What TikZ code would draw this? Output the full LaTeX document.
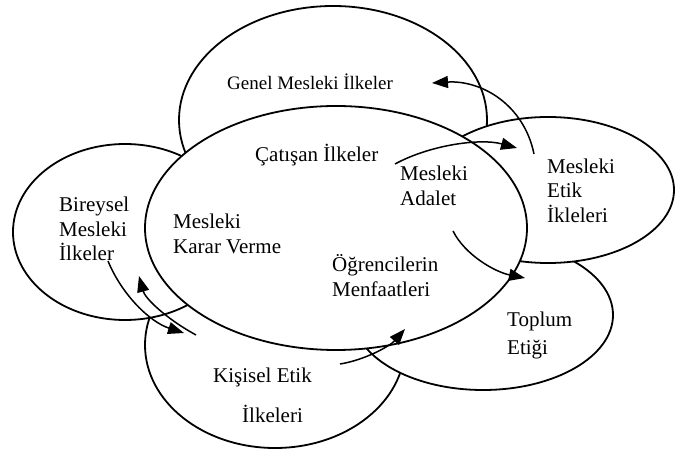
\documentclass[tikz,border=0pt]{standalone}
\usepackage{fontspec}
\setmainfont{Liberation Serif}
\usetikzlibrary{shapes.geometric,arrows.meta}
\begin{document}
\begin{tikzpicture}[x=1pt,y=-1pt,
  circ/.style={ellipse,draw,fill=white,line width=1.8pt,inner sep=0pt},
  lbl/.style={anchor=base west,inner sep=0pt,font=\fontsize{21}{25}\selectfont},
  conn/.style={line width=1.5pt,-{Triangle[length=16pt,width=12pt]}}]
\useasboundingbox (0,0) rectangle (675,454);
% circles (back to front)
\node[circ,minimum width=308pt,minimum height=228pt] (genel) at (333,120) {};
\node[circ,minimum width=260pt,minimum height=206pt] (kisisel) at (275,345) {};
\node[circ,minimum width=260pt,minimum height=150pt] (toplum) at (483,315) {};
\node[circ,minimum width=252pt,minimum height=146pt] (etik) at (548,190) {};
\node[circ,minimum width=224pt,minimum height=176pt] (bireysel) at (125,232) {};
\node[circ,minimum width=382pt,minimum height=244pt] (merkez) at (336,228) {};
% texts
\node[lbl,font=\fontsize{19}{23}\selectfont] (tgenel) at (227,90) {Genel Mesleki İlkeler};
\node[lbl] (tcat) at (255,162) {Çatışan İlkeler};
\node[lbl] (tada1) at (400,181) {Mesleki};
\node[lbl] (tada2) at (400,206) {Adalet};
\node[lbl] (tkar1) at (173,229) {Mesleki};
\node[lbl] (tkar2) at (173,254) {Karar Verme};
\node[lbl] (tbir1) at (59,212) {Bireysel};
\node[lbl] (tbir2) at (59,237) {Mesleki};
\node[lbl] (tbir3) at (59,261) {İlkeler};
\node[lbl] (tetk1) at (547,174) {Mesleki};
\node[lbl] (tetk2) at (547,198) {Etik};
\node[lbl] (tetk3) at (547,223) {İkleleri};
\node[lbl] (togr1) at (332,272) {Öğrencilerin};
\node[lbl] (togr2) at (332,297) {Menfaatleri};
\node[lbl] (ttop1) at (507,327) {Toplum};
\node[lbl] (ttop2) at (507,355) {Etiği};
\node[lbl] (tkis1) at (213,383) {Kişisel Etik};
\node[lbl] (tkis2) at (242,422) {İlkeleri};
% connector ends
\coordinate (a1s) at (534,154); \coordinate (a1e) at (432,83);
\coordinate (a2s) at (395,164); \coordinate (a2e) at (517,148);
\coordinate (a3s) at (453,231); \coordinate (a3e) at (525,278);
\coordinate (a4s) at (340,364); \coordinate (a4e) at (405,329);
\coordinate (a5s) at (108,261); \coordinate (a5e) at (184,333);
\coordinate (a6s) at (196,335); \coordinate (a6e) at (139,276);
\draw[conn] (a1s) .. controls (524,105) and (482,80) .. (a1e);
\draw[conn] (a2s) .. controls (430,145) and (480,138) .. (a2e);
\draw[conn] (a3s) .. controls (465,255) and (495,272) .. (a3e);
\draw[conn] (a4s) .. controls (365,360) and (390,346) .. (a4e);
\draw[conn] (a5s) .. controls (122,295) and (150,322) .. (a5e);
\draw[conn] (a6s) .. controls (165,318) and (145,298) .. (a6e);
\end{tikzpicture}
\end{document}
